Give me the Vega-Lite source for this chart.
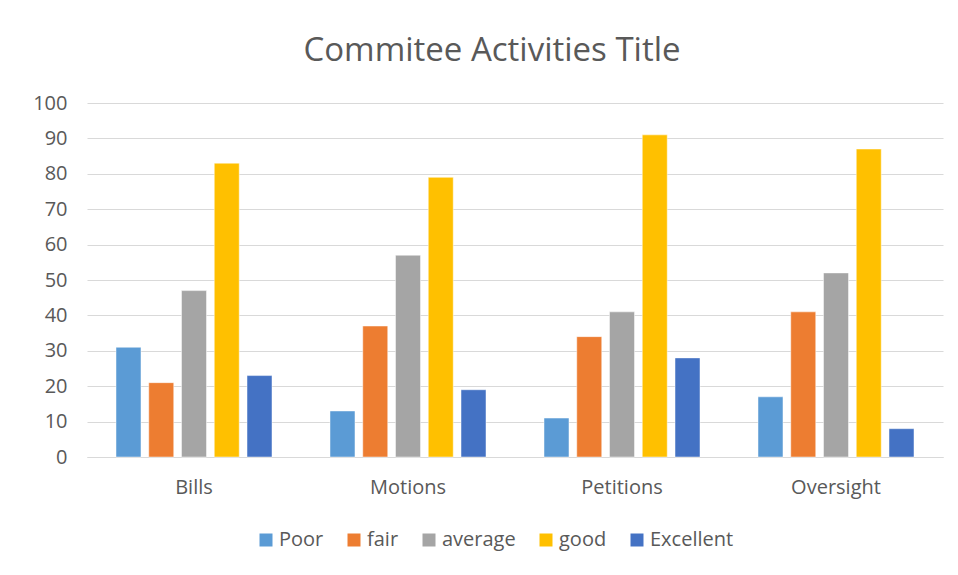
{
  "$schema": "https://vega.github.io/schema/vega-lite/v6.json",
  "width": 856,
  "height": 354,
  "autosize": {"type": "none"},
  "padding": {"left": 87, "top": 103, "right": 15, "bottom": 118},
  "background": "white",
  "title": {
    "text": "Commitee Activities Title",
    "fontSize": 33,
    "font": "Open Sans",
    "fontWeight": "normal",
    "color": "#595959",
    "anchor": "middle",
    "dx": -23,
    "offset": 25
  },
  "data": {
    "values": [
      {"activity": "Bills", "rating": "Poor", "value": 31},
      {"activity": "Bills", "rating": "fair", "value": 21},
      {"activity": "Bills", "rating": "average", "value": 47},
      {"activity": "Bills", "rating": "good", "value": 83},
      {"activity": "Bills", "rating": "Excellent", "value": 23},
      {"activity": "Motions", "rating": "Poor", "value": 13},
      {"activity": "Motions", "rating": "fair", "value": 37},
      {"activity": "Motions", "rating": "average", "value": 57},
      {"activity": "Motions", "rating": "good", "value": 79},
      {"activity": "Motions", "rating": "Excellent", "value": 19},
      {"activity": "Petitions", "rating": "Poor", "value": 11},
      {"activity": "Petitions", "rating": "fair", "value": 34},
      {"activity": "Petitions", "rating": "average", "value": 41},
      {"activity": "Petitions", "rating": "good", "value": 91},
      {"activity": "Petitions", "rating": "Excellent", "value": 28},
      {"activity": "Oversight", "rating": "Poor", "value": 17},
      {"activity": "Oversight", "rating": "fair", "value": 41},
      {"activity": "Oversight", "rating": "average", "value": 52},
      {"activity": "Oversight", "rating": "good", "value": 87},
      {"activity": "Oversight", "rating": "Excellent", "value": 8}
    ]
  },
  "mark": {"type": "bar", "stroke": "white", "strokeWidth": 0.8, "strokeOpacity": 0.6},
  "encoding": {
    "x": {
      "field": "activity",
      "type": "nominal",
      "sort": ["Bills", "Motions", "Petitions", "Oversight"],
      "scale": {"paddingInner": 0.271, "paddingOuter": 0.1355},
      "axis": {
        "title": null,
        "labelAngle": 0,
        "ticks": false,
        "domainColor": "#D9D9D9",
        "labelFontSize": 20,
        "labelFont": "Open Sans",
        "labelColor": "#595959",
        "labelPadding": 20
      }
    },
    "xOffset": {
      "field": "rating",
      "type": "nominal",
      "sort": ["Poor", "fair", "average", "good", "Excellent"],
      "scale": {"paddingInner": 0.237, "paddingOuter": 0}
    },
    "y": {
      "field": "value",
      "type": "quantitative",
      "scale": {"domain": [0, 100]},
      "axis": {
        "title": null,
        "values": [0, 10, 20, 30, 40, 50, 60, 70, 80, 90, 100],
        "labelOverlap": false,
        "domain": false,
        "ticks": false,
        "gridColor": "#D9D9D9",
        "labelFontSize": 20,
        "labelFont": "Open Sans",
        "labelColor": "#595959",
        "labelPadding": 20
      }
    },
    "color": {
      "field": "rating",
      "type": "nominal",
      "sort": ["Poor", "fair", "average", "good", "Excellent"],
      "scale": {
        "domain": ["Poor", "fair", "average", "good", "Excellent"],
        "range": ["#5B9BD5", "#ED7D31", "#A5A5A5", "#FFC000", "#4472C4"]
      },
      "legend": {
        "title": null,
        "orient": "none",
        "legendX": 169,
        "legendY": 427,
        "padding": 0,
        "direction": "horizontal",
        "symbolType": "square",
        "symbolSize": 169,
        "symbolStrokeWidth": 0,
        "labelFontSize": 20,
        "labelFont": "Open Sans",
        "labelColor": "#595959",
        "columnPadding": 20,
        "labelOffset": 3
      }
    }
  },
  "config": {
    "view": {"stroke": null}
  }
}
